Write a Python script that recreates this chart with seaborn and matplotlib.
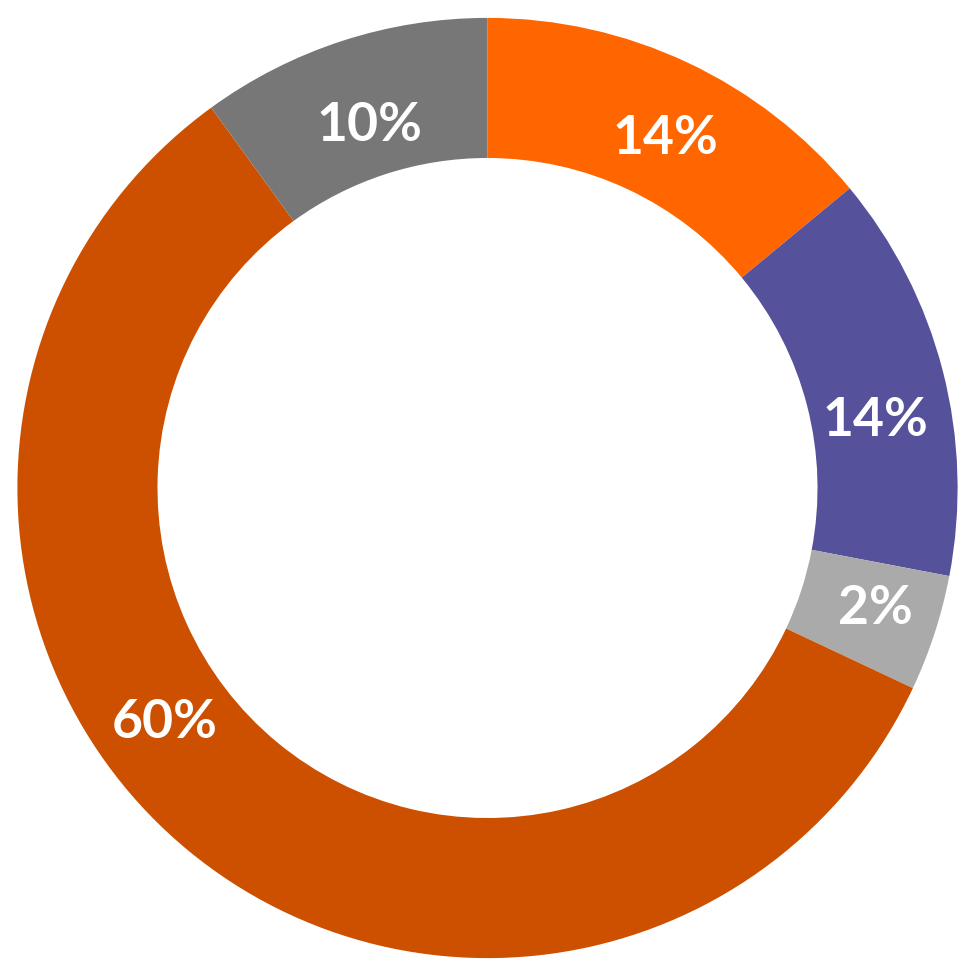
import numpy as np
import matplotlib
matplotlib.use("Agg")
import matplotlib.pyplot as plt
import seaborn as sns

# slice data, clockwise from the top
segments = ["A", "B", "C", "D", "E"]
values = [14, 14, 4, 58, 10]
labels = ["14%", "14%", "2%", "60%", "10%"]
colors = ["#FF6600", "#55519B", "#AAAAAA", "#CC5000", "#777777"]

# label placement (angle in degrees, radius) -- style only
label_angle = [63, 9.8, -17.2, 216, 108]
label_radius = [0.834, 0.838, 0.864, 0.849, 0.811]

sns.set_theme(style="white")
plt.rcParams['font.family'] = ['Lato', 'DejaVu Sans']

fig = plt.figure(figsize=(9.75, 9.76), dpi=100)
ax = fig.add_axes([0, 0, 1, 1])

wedges, _ = ax.pie(values, colors=sns.color_palette(colors), startangle=90,
                   counterclock=False, radius=1.0,
                   wedgeprops=dict(width=0.298, linewidth=0))

for lab, a, r in zip(labels, label_angle, label_radius):
    t = np.deg2rad(a)
    ax.text(r * np.cos(t), r * np.sin(t), lab, color="white",
            fontsize=38.5, fontweight="bold", ha="center", va="center")

ax.set_xlim(-1.037, 1.037)
ax.set_ylim(-1.038, 1.038)
ax.set_aspect("equal")
ax.axis("off")

fig.savefig("out.png", dpi=100, facecolor="white")
